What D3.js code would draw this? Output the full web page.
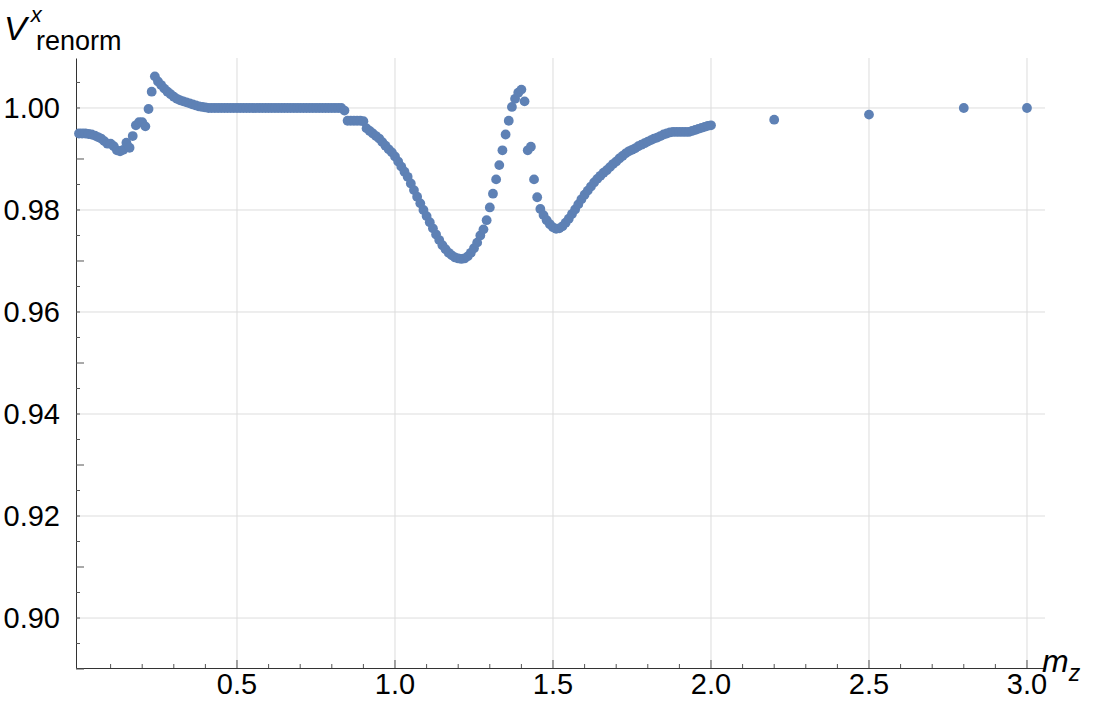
<!DOCTYPE html>
<html><head><meta charset="utf-8">
<script src="https://cdn.jsdelivr.net/npm/d3@7.9.0/dist/d3.min.js"></script>
<style>body{margin:0;background:#fff}text{font-family:"Liberation Sans",Arial,sans-serif}</style>
</head><body><svg id="c" width="1110" height="707"></svg>
<script>
// dense sample: mz = 0.00 .. 2.00, step 0.01
const denseV = [
0.995,0.995,0.995,0.9949,0.9948,0.9946,0.9943,0.994,0.9935,0.993,
0.993,0.9925,0.9917,0.9915,0.9918,0.9932,0.9922,0.9945,0.9966,0.9972,
0.9972,0.9964,0.9998,1.0032,1.0062,1.0052,1.0045,1.0038,1.0032,1.0027,
1.0022,1.0018,1.0015,1.0013,1.0011,1.0009,1.0007,1.0005,1.0003,1.0002,
1.0001,1,1,1,1,1,1,1,1,1,
1,1,1,1,1,1,1,1,1,1,
1,1,1,1,1,1,1,1,1,1,
1,1,1,1,1,1,1,1,1,1,
1,1,1,1,0.9995,0.9975,0.9975,0.9975,0.9975,0.9975,
0.9974,0.996,0.9955,0.995,0.9945,0.994,0.9933,0.9926,0.9919,0.9913,
0.9905,0.9895,0.9885,0.9875,0.9865,0.9852,0.9839,0.9826,0.9813,0.980,
0.9788,0.9776,0.9764,0.9752,0.9741,0.9731,0.9723,0.9716,0.9711,0.9707,
0.9705,0.9704,0.9705,0.9709,0.9716,0.9725,0.9736,0.975,0.9762,0.978,
0.9805,0.9832,0.986,0.9888,0.9917,0.9948,0.9975,1.0002,1.0018,1.003,
1.0036,1.0013,0.9917,0.9924,0.986,0.9825,0.9802,0.979,0.978,0.9772,
0.9766,0.9763,0.9764,0.9768,0.9775,0.9783,0.9792,0.9801,0.9811,0.9821,
0.983,0.9838,0.9846,0.9854,0.9861,0.9867,0.9873,0.9878,0.9884,0.989,
0.9895,0.9901,0.9906,0.9911,0.9915,0.9918,0.9921,0.9925,0.9928,0.9931,
0.9934,0.9937,0.994,0.9942,0.9945,0.9948,0.995,0.9952,0.9953,0.9953,
0.9953,0.9953,0.9953,0.9953,0.9955,0.9957,0.9959,0.9961,0.9963,0.9965,
0.9966];
const sparseX = [2.2, 2.5, 2.8, 3.0];
const sparseV = [0.9977, 0.9987, 1.0, 1.0];
const xTicks = [0.5, 1.0, 1.5, 2.0, 2.5, 3.0];
const yTicks = [0.90, 0.92, 0.94, 0.96, 0.98, 1.00];

const denseX = denseV.map((_, i) => i / 100);
const points = denseV.map((v, i) => [denseX[i], v])
  .concat(sparseX.map((x, i) => [x, sparseV[i]]));

const svg = d3.select('#c');
const x = d3.scaleLinear().domain([-0.0095, 3.057]).range([76, 1045]);
const y = d3.scaleLinear().domain([0.8902, 1.0098]).range([668, 58]);

// grid
svg.append('g').selectAll('line').data(xTicks).join('line')
  .attr('x1', d => x(d)).attr('x2', d => x(d)).attr('y1', 58).attr('y2', 668)
  .attr('stroke', '#ddd').attr('stroke-width', 1);
svg.append('g').selectAll('line').data(yTicks).join('line')
  .attr('x1', 76).attr('x2', 1045).attr('y1', d => y(d)).attr('y2', d => y(d))
  .attr('stroke', '#ddd').attr('stroke-width', 1);

// axes
const xAxis = svg.append('g').attr('transform', 'translate(0,668)')
  .call(d3.axisBottom(x).tickValues([]).tickSize(0));
xAxis.select('.domain').attr('stroke', '#333');
svg.append('g').selectAll('line').data(d3.range(1, 31)).join('line')
  .attr('x1', d => x(d / 10)).attr('x2', d => x(d / 10))
  .attr('y1', 668).attr('y2', d => d % 5 === 0 ? 660 : 664).attr('stroke', '#555');
svg.append('g').selectAll('text').data(xTicks).join('text')
  .attr('x', d => x(d)).attr('y', 671).attr('dy', '0.8em').attr('text-anchor', 'middle')
  .attr('font-size', 29).text(d => d.toFixed(1));

const yAxis = svg.append('g').attr('transform', 'translate(76,0)')
  .call(d3.axisLeft(y).tickValues([]).tickSize(0));
yAxis.select('.domain').attr('stroke', '#333');
svg.append('g').selectAll('line').data(d3.range(0, 24)).join('line')
  .attr('x1', 76).attr('x2', d => d % 4 === 0 ? 84 : 80)
  .attr('y1', d => y(0.89 + d * 0.005)).attr('y2', d => y(0.89 + d * 0.005)).attr('stroke', '#555');
svg.append('g').selectAll('text').data(yTicks).join('text')
  .attr('x', 60).attr('y', d => y(d)).attr('dy', '0.36em').attr('text-anchor', 'end')
  .attr('font-size', 29).text(d => d.toFixed(2));

// labels
const yl = svg.append('text').attr('x', 4).attr('y', 40).attr('font-size', 34);
yl.append('tspan').attr('font-style', 'italic').text('V');
yl.append('tspan').attr('font-size', 22).attr('font-style', 'italic').attr('dx', 4).attr('dy', -18).text('x');
yl.append('tspan').attr('font-size', 27).attr('x', 36).attr('y', 50).text('renorm');
const xl = svg.append('text').attr('x', 1042).attr('y', 672).attr('font-size', 32);
xl.append('tspan').attr('font-style', 'italic').text('m');
xl.append('tspan').attr('font-style', 'italic').attr('font-size', 23).attr('dy', 9).text('z');

// points
svg.append('g').selectAll('circle').data(points).join('circle')
  .attr('cx', d => x(d[0])).attr('cy', d => y(d[1])).attr('r', 4.9)
  .attr('fill', '#5e81b5');
</script></body></html>
